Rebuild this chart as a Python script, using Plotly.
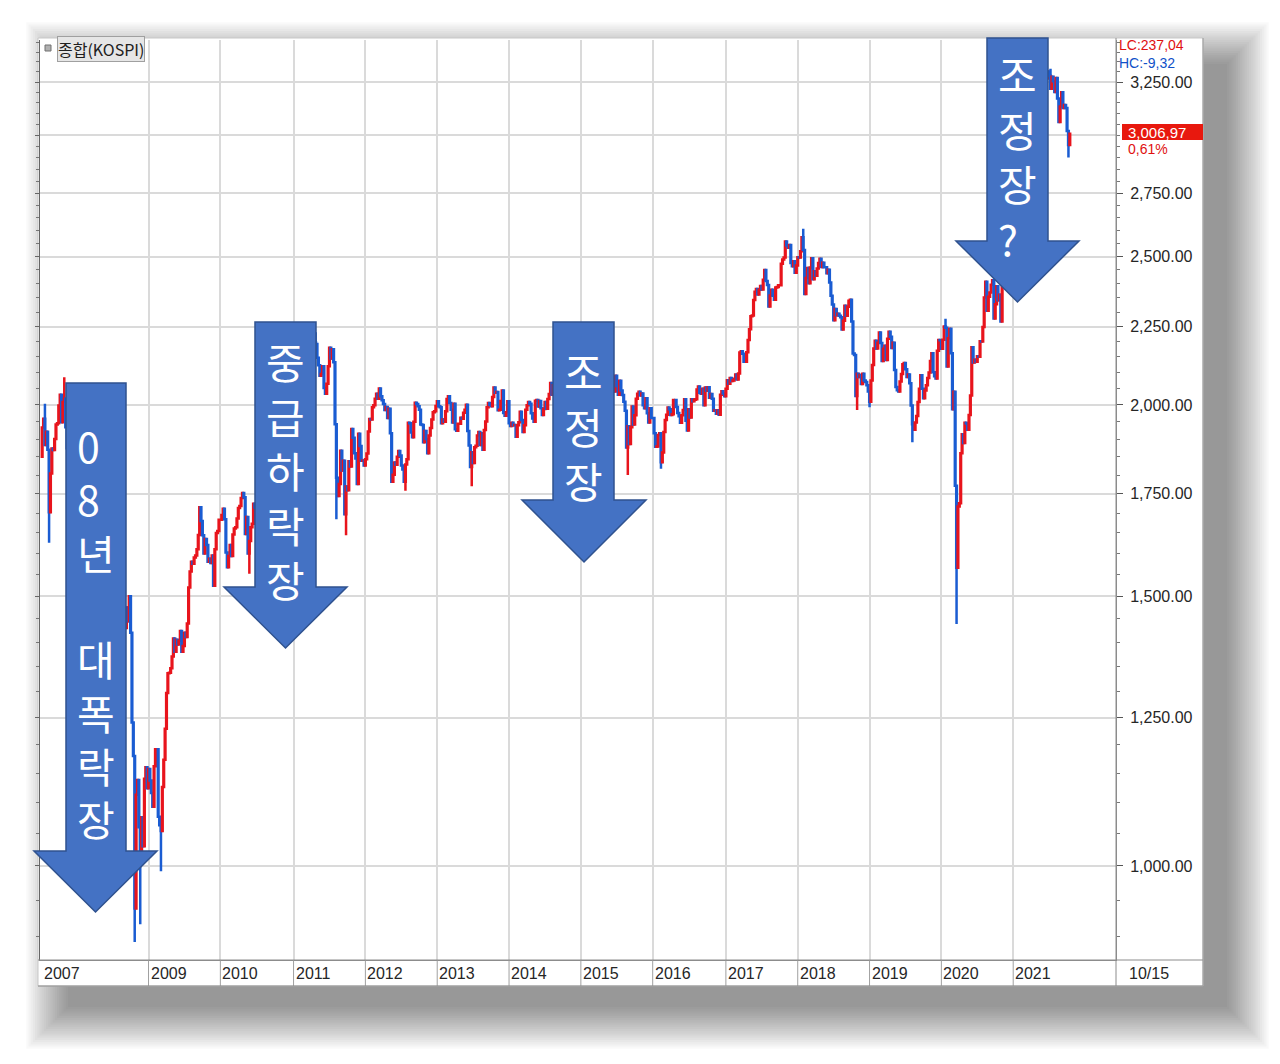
import math
import pandas as pd
import plotly.graph_objects as go

# ---------------- DATA (weekly closes of KOSPI) ----------------
close_2007 = [1933, 1959, 1883, 1921, 1870, 1702, 1804, 1873, 1869, 1900, 1942, 1946, 1998,
              2031, 1949, 2009, 2019, 1934, 1874, 1791, 1906, 1950, 1911, 1891, 1897]
close_2008 = [1853, 1820, 1700, 1688, 1712, 1650, 1680, 1712, 1711, 1660, 1600, 1620, 1700,
              1720, 1750, 1800, 1825, 1850, 1830, 1890, 1850, 1852, 1810, 1780, 1730, 1680,
              1570, 1530, 1570, 1600, 1580, 1560, 1570, 1520, 1474, 1430, 1475, 1445, 1500,
              1420, 1241, 1180, 938, 1113, 1138, 1060, 1003, 1076, 1030, 1140, 1160, 1124]
close_2009 = [1157, 1137, 1116, 1093, 1162, 1192, 1192, 1077, 1063, 1054, 1126, 1173, 1229,
              1297, 1336, 1337, 1346, 1370, 1408, 1380, 1405, 1395, 1403, 1424, 1380, 1392,
              1420, 1411, 1440, 1520, 1557, 1580, 1575, 1590, 1595, 1610, 1645, 1715, 1680,
              1644, 1600, 1635, 1620, 1580, 1587, 1577, 1595, 1524, 1610, 1650, 1655, 1683]
close_2010 = [1683, 1695, 1711, 1684, 1602, 1567, 1594, 1620, 1594, 1646, 1661, 1664, 1686,
              1713, 1718, 1739, 1752, 1741, 1647, 1690, 1600, 1630, 1664, 1673, 1724, 1714,
              1682, 1730, 1750, 1752, 1759, 1782, 1737, 1770, 1735, 1791, 1799, 1821, 1834,
              1870, 1897, 1898, 1896, 1882, 1937, 1914, 1923, 1901, 1950, 1986, 2015, 2037, 2051]
close_2011 = [2086, 2108, 2087, 2107, 2073, 1983, 2017, 1939, 1975, 1957, 1930, 2014, 2090,
              2127, 2126, 2197, 2192, 2147, 2123, 2090, 2095, 2120, 2052, 2034, 2065, 2120,
              2180, 2145, 2175, 2133, 1943, 1793, 1744, 1776, 1867, 1812, 1839, 1697, 1769,
              1759, 1838, 1823, 1929, 1904, 1860, 1845, 1776, 1915, 1880, 1839, 1840, 1826]
close_2012 = [1843, 1859, 1922, 1958, 1957, 1993, 1999, 2019, 2034, 2019, 2050, 2026, 2014,
              2003, 1985, 1994, 1961, 1989, 1917, 1782, 1801, 1834, 1828, 1850, 1866, 1854,
              1826, 1815, 1782, 1829, 1843, 1947, 1946, 1919, 1905, 1950, 2007, 2003, 1996,
              1986, 1942, 1941, 1891, 1923, 1900, 1860, 1910, 1932, 1957, 1978, 1981, 1997]
close_2013 = [2011, 1996, 1993, 1946, 1957, 1950, 1981, 2018, 2026, 2006, 1986, 1948, 2004,
              1928, 1924, 1944, 1944, 1962, 1959, 1977, 1986, 2001, 1923, 1882, 1822, 1863,
              1833, 1877, 1881, 1910, 1920, 1883, 1917, 1870, 1926, 1951, 1993, 2006, 2001,
              1996, 2024, 2053, 2037, 2039, 1984, 1986, 2012, 2044, 1976, 1968, 1978, 2011]
close_2014 = [1946, 1938, 1947, 1940, 1941, 1907, 1940, 1949, 1980, 1955, 1920, 1940, 1986,
              1999, 2009, 2004, 1975, 1960, 1950, 2013, 2015, 1995, 2012, 1990, 1970, 1988,
              2009, 1989, 2018, 2033, 2067, 2031, 2060, 2062, 2068, 2052, 2049, 2052, 2031,
              1976, 1940, 1900, 1931, 1964, 1939, 1952, 1967, 1980, 1970, 1920, 1929, 1930]
close_2015 = [1926, 1924, 1888, 1936, 1952, 1955, 1951, 1962, 1985, 1997, 1987, 2037, 2020,
              2029, 2087, 2143, 2159, 2102, 2107, 2121, 2143, 2114, 2069, 2042, 2041, 2090,
              2058, 2031, 2074, 2044, 2030, 2010, 1983, 1876, 1937, 1886, 1934, 1995, 1942,
              1969, 2019, 2034, 2040, 2029, 2035, 1999, 1990, 2020, 1975, 1948, 1990, 1961]
close_2016 = [1961, 1917, 1878, 1879, 1912, 1917, 1835, 1862, 1920, 1955, 1971, 1992, 1987,
              1970, 1972, 2015, 2015, 1994, 1976, 1966, 1947, 1969, 1985, 2017, 1953, 1925,
              1987, 1963, 2017, 2011, 2016, 2017, 2047, 2056, 2037, 2034, 2049, 1999, 2053,
              2043, 2054, 2022, 2033, 2019, 1983, 1984, 1974, 1984, 1971, 2031, 2042, 2035, 2026]
close_2017 = [2049, 2076, 2065, 2083, 2073, 2075, 2080, 2094, 2078, 2097, 2164, 2168, 2160,
              2134, 2134, 2165, 2205, 2241, 2285, 2288, 2342, 2371, 2381, 2361, 2378, 2392,
              2379, 2414, 2450, 2410, 2395, 2319, 2358, 2378, 2357, 2343, 2386, 2388, 2394,
              2394, 2473, 2489, 2496, 2557, 2542, 2533, 2544, 2476, 2464, 2482, 2440, 2467]
close_2018 = [2497, 2496, 2520, 2574, 2525, 2363, 2421, 2457, 2402, 2459, 2494, 2416, 2445,
              2429, 2455, 2476, 2492, 2461, 2477, 2460, 2460, 2438, 2451, 2404, 2357, 2326,
              2272, 2310, 2289, 2294, 2287, 2282, 2240, 2270, 2322, 2287, 2318, 2339, 2343,
              2267, 2161, 2156, 2027, 2096, 2086, 2092, 2064, 2096, 2075, 2070, 2060, 2041]
close_2019 = [2010, 2075, 2124, 2177, 2203, 2177, 2196, 2230, 2195, 2137, 2176, 2186, 2140,
              2209, 2233, 2216, 2179, 2196, 2108, 2055, 2045, 2041, 2072, 2095, 2126, 2130,
              2110, 2086, 2094, 2066, 1998, 1943, 1927, 1948, 1967, 2009, 2049, 2091, 2049,
              2020, 2044, 2060, 2083, 2100, 2137, 2162, 2101, 2088, 2081, 2170, 2205, 2204]
close_2020 = [2176, 2206, 2250, 2246, 2119, 2211, 2243, 2162, 1987, 2040, 1771, 1566, 1717,
              1725, 1860, 1914, 1889, 1947, 1945, 1927, 1970, 2029, 2181, 2132, 2141, 2134,
              2152, 2150, 2201, 2200, 2249, 2351, 2407, 2304, 2353, 2368, 2396, 2412, 2278,
              2327, 2391, 2341, 2360, 2267, 2416, 2493, 2553, 2633, 2731, 2770, 2772, 2806]
close_2021 = [2873, 3152, 3085, 3140, 2976, 3120, 3100, 3107, 3013, 3026, 3054, 3039, 3041,
              3112, 3131, 3198, 3186, 3147, 3197, 3153, 3156, 3188, 3240, 3249, 3267, 3302,
              3281, 3217, 3276, 3254, 3202, 3270, 3171, 3060, 3133, 3201, 3125, 3140, 3125,
              3019, 2956, 3006.97]
first_open = 1850

# first weekly bar (Friday) of each year
year_first_bar = {2007: "2007-07-13", 2008: "2008-01-04", 2009: "2009-01-02", 2010: "2010-01-01",
                  2011: "2011-01-07", 2012: "2012-01-06", 2013: "2013-01-04", 2014: "2014-01-03",
                  2015: "2015-01-02", 2016: "2016-01-01", 2017: "2017-01-06", 2018: "2018-01-05",
                  2019: "2019-01-04", 2020: "2020-01-03", 2021: "2021-01-01"}

# intraweek extremes (wicks) visible on the chart
low_marks = {"2007-08-17": 1626, "2008-10-24": 892, "2008-11-21": 916, "2009-03-06": 992,
             "2010-05-28": 1552, "2011-08-12": 1684, "2011-09-30": 1644, "2012-07-27": 1758,
             "2013-06-28": 1770, "2015-08-28": 1800, "2016-02-12": 1817, "2018-11-02": 1985,
             "2019-01-04": 1993, "2019-08-09": 1891, "2020-03-20": 1439, "2021-10-08": 2901}
high_marks = {"2007-07-27": 2004, "2007-11-02": 2085, "2011-04-29": 2231, "2018-02-02": 2607,
              "2020-01-24": 2277, "2021-07-09": 3316}

y_tick_values = [1000, 1250, 1500, 1750, 2000, 2250, 2500, 2750, 3000, 3250]
y_tick_labels = ["1,000.00", "1,250.00", "1,500.00", "1,750.00", "2,000.00", "2,250.00",
                 "2,500.00", "2,750.00", "", "3,250.00"]
x_label_years = [2007, 2009, 2010, 2011, 2012, 2013, 2014, 2015, 2016, 2017, 2018, 2019, 2020, 2021]
grid_years = [2009, 2010, 2011, 2012, 2013, 2014, 2015, 2016, 2017, 2018, 2019, 2020, 2021]

title_text = "종합(KOSPI)"
lc_text = "LC:237,04"
hc_text = "HC:-9,32"
last_price_text = "3,006,97"
last_change_text = "0,61%"
end_date_text = "10/15"

arrow_texts = [
    ["0", "8", "년", "", "대", "폭", "락", "장"],
    ["중", "급", "하", "락", "장"],
    ["조", "정", "장"],
    ["조", "정", "장", "?"],
]

# ---------------- build OHLC ----------------
yearly = {2007: close_2007, 2008: close_2008, 2009: close_2009, 2010: close_2010,
          2011: close_2011, 2012: close_2012, 2013: close_2013, 2014: close_2014,
          2015: close_2015, 2016: close_2016, 2017: close_2017, 2018: close_2018,
          2019: close_2019, 2020: close_2020, 2021: close_2021}
dates, closes = [], []
for yr, vals in yearly.items():
    d = pd.date_range(year_first_bar[yr], periods=len(vals), freq="7D")
    dates += list(d)
    closes += vals
opens = [first_open] + closes[:-1]
keys = [d.strftime("%Y-%m-%d") for d in dates]
highs = [max(o, c, high_marks.get(k, 0)) for o, c, k in zip(opens, closes, keys)]
lows = [min(o, c, low_marks.get(k, 1e9)) for o, c, k in zip(opens, closes, keys)]

# ---------------- layout geometry (pixels) ----------------
W, H = 1280, 1064
PL, PR, PT, PB = 40, 1116, 40, 960


def fx(px):
    return (px - PL) / (PR - PL)


def fy(py):
    return (PB - py) / (PB - PT)


y_range = [math.log10(868.2), math.log10(3462)]
x_range = ["2007-07-02", "2022-06-06"]

fig = go.Figure()
fig.add_trace(go.Candlestick(
    x=dates, open=opens, high=highs, low=lows, close=closes,
    increasing=dict(line=dict(color="#E8141C", width=2.5), fillcolor="#E8141C"),
    decreasing=dict(line=dict(color="#1A5CD2", width=2.5), fillcolor="#1A5CD2"),
    whiskerwidth=0, hoverinfo="skip", showlegend=False,
))
fig.add_trace(go.Scatter(x=[dates[0]], y=[closes[0]], yaxis="y2", mode="markers",
                         marker=dict(opacity=0), hoverinfo="skip", showlegend=False))

shapes = []
# soft drop shadow (mostly towards bottom-right)
for i in range(20):
    s = 2.2 * i
    offx, offy = 30, 26
    shapes.append(dict(type="rect", xref="paper", yref="paper", layer="below",
                       x0=fx(38 + offx - s), x1=fx(1203 + offx - 6 + s),
                       y0=fy(985 + offy - 4 + s), y1=fy(38 + offy - s),
                       fillcolor="rgba(0,0,0,0.024)", line=dict(width=0)))
# white frame
shapes.append(dict(type="rect", xref="paper", yref="paper", layer="below",
                   x0=fx(38), x1=fx(1203), y0=fy(986), y1=fy(38),
                   fillcolor="white", line=dict(color="#c8c8c8", width=1)))
# date row separators
for yr in grid_years:
    shapes.append(dict(type="line", xref="x", yref="paper", x0=year_first_bar[yr],
                       x1=year_first_bar[yr], y0=0, y1=fy(986),
                       line=dict(color="#a0a0a0", width=1)))
shapes.append(dict(type="line", xref="paper", yref="paper", x0=1, x1=1, y0=fy(986), y1=fy(38),
                   line=dict(color="#8c8c8c", width=1)))
shapes.append(dict(type="line", xref="paper", yref="paper", x0=fx(38), x1=fx(1203), y0=0, y1=0,
                   line=dict(color="#8c8c8c", width=1)))
shapes.append(dict(type="line", xref="paper", yref="paper", x0=fx(38), x1=fx(1203),
                   y0=fy(986), y1=fy(986), line=dict(color="#8c8c8c", width=1)))
shapes.append(dict(type="line", xref="paper", yref="paper", x0=fx(1203), x1=fx(1203),
                   y0=fy(986), y1=fy(38), line=dict(color="#9a9a9a", width=1)))
# legend icon
shapes.append(dict(type="rect", xref="paper", yref="paper", layer="above",
                   x0=fx(45), x1=fx(51), y0=fy(51), y1=fy(45),
                   fillcolor="#b0b0b0", line=dict(color="#707070", width=1)))
# last price box
shapes.append(dict(type="rect", xref="paper", yref="paper", layer="above",
                   x0=fx(1122), x1=fx(1203), y0=fy(140), y1=fy(124),
                   fillcolor="#E8180E", line=dict(width=0)))

# arrows: (body left, body right, top, neck, head left, head right, tip y)
arrow_geom = [
    (66, 126, 383, 851, 34, 157, 912),
    (255, 316, 322, 587, 224, 347, 648),
    (553, 614, 322, 500, 522, 646, 562),
    (987, 1048, 38, 241, 956, 1079, 302),
]
for (bl, br, top, neck, hl, hr, tip) in arrow_geom:
    cx = (hl + hr) / 2
    pts = [(bl, top), (br, top), (br, neck), (hr, neck), (cx, tip), (hl, neck), (bl, neck)]
    path = "M " + " L ".join(f"{fx(a):.5f},{fy(b):.5f}" for a, b in pts) + " Z"
    shapes.append(dict(type="path", xref="paper", yref="paper", layer="above", path=path,
                       fillcolor="#4472C4", line=dict(color="#2F528F", width=1.5)))

annotations = []
# (left x, vertical centre, font size) of each arrow's stacked text
arrow_text_box = [(75, 631, 41), (264, 469, 42), (562, 425, 42), (996, 155, 42)]
for chars, (ax, ay, fs) in zip(arrow_texts, arrow_text_box):
    annotations.append(dict(text="<br>".join(c if c else " " for c in chars),
                            x=fx(ax), y=fy(ay), xref="paper", yref="paper",
                            xanchor="left", yanchor="middle", align="left", showarrow=False,
                            font=dict(family="Noto Sans CJK KR", size=fs, color="white")))

axis_font = dict(family="Liberation Sans", size=16, color="#262626")
for yr in x_label_years:
    annotations.append(dict(text=str(yr), x=year_first_bar[yr], y=fy(973), xref="x", yref="paper",
                            xanchor="left", yanchor="middle", xshift=0, showarrow=False,
                            font=axis_font))
annotations.append(dict(text=end_date_text, x=fx(1127), y=fy(973), xref="paper", yref="paper",
                        xanchor="left", yanchor="middle", showarrow=False, font=axis_font))
annotations.append(dict(text=title_text, x=fx(57), y=fy(48.5), xref="paper", yref="paper",
                        xanchor="left", yanchor="middle", showarrow=False, bgcolor="#e6e6e6",
                        bordercolor="#a0a0a0", borderwidth=1, borderpad=0,
                        font=dict(family="Noto Sans CJK KR", size=16, color="#202020")))
annotations.append(dict(text=f"<span style='color:#E01010'>{lc_text}</span><br>"
                             f"<span style='color:#1050C8'>{hc_text}</span>",
                        x=fx(1117), y=fy(54.5), xref="paper", yref="paper",
                        xanchor="left", yanchor="middle", align="left", showarrow=False,
                        font=dict(family="Liberation Sans", size=14, color="#E01010")))
annotations.append(dict(text=last_price_text, x=fx(1126), y=fy(132), xref="paper", yref="paper",
                        xanchor="left", yanchor="middle", showarrow=False,
                        font=dict(family="Liberation Sans", size=15, color="white")))
annotations.append(dict(text=last_change_text, x=fx(1126), y=fy(149), xref="paper", yref="paper",
                        xanchor="left", yanchor="middle", showarrow=False,
                        font=dict(family="Liberation Sans", size=14, color="#E01010")))

minor_vals = list(range(900, 3451, 50))

fig.update_layout(
    width=W, height=H, autosize=False,
    margin=dict(l=PL, r=W - PR, t=PT, b=H - PB, pad=0),
    paper_bgcolor="white", plot_bgcolor="rgba(0,0,0,0)",
    showlegend=False, hovermode=False,
    shapes=shapes, annotations=annotations,
    xaxis=dict(type="date", range=x_range, rangeslider=dict(visible=False),
               tickmode="array", tickvals=[year_first_bar[y] for y in grid_years],
               showticklabels=False, ticks="", showgrid=True, gridcolor="#dadada", gridwidth=2,
               showline=True, linecolor="#8c8c8c", linewidth=1, zeroline=False, fixedrange=True),
    yaxis=dict(type="log", range=y_range, side="right", tickmode="array",
               tickvals=y_tick_values, ticktext=y_tick_labels, tickfont=axis_font,
               ticks="outside", ticklen=6, tickcolor="#555", ticklabelstandoff=4,
               showgrid=True, gridcolor="#dadada", gridwidth=2,
               showline=True, linecolor="#8c8c8c", linewidth=1, zeroline=False,
               minor=dict(tickmode="array", tickvals=minor_vals, ticks="outside", ticklen=3,
                          tickcolor="#777", showgrid=False),
               fixedrange=True),
    yaxis2=dict(type="log", range=y_range, side="left", overlaying="y", tickmode="array",
                tickvals=y_tick_values, showticklabels=False, ticks="outside", ticklen=4,
                tickcolor="#666", showgrid=False, showline=True, linecolor="#666", linewidth=1,
                zeroline=False,
                minor=dict(tickmode="array", tickvals=minor_vals, ticks="outside", ticklen=3,
                           tickcolor="#777", showgrid=False),
                fixedrange=True),
)

fig.write_html("out.html", config={"displayModeBar": False},
               post_script="document.body.style.margin='0';document.body.style.overflow='hidden';")
